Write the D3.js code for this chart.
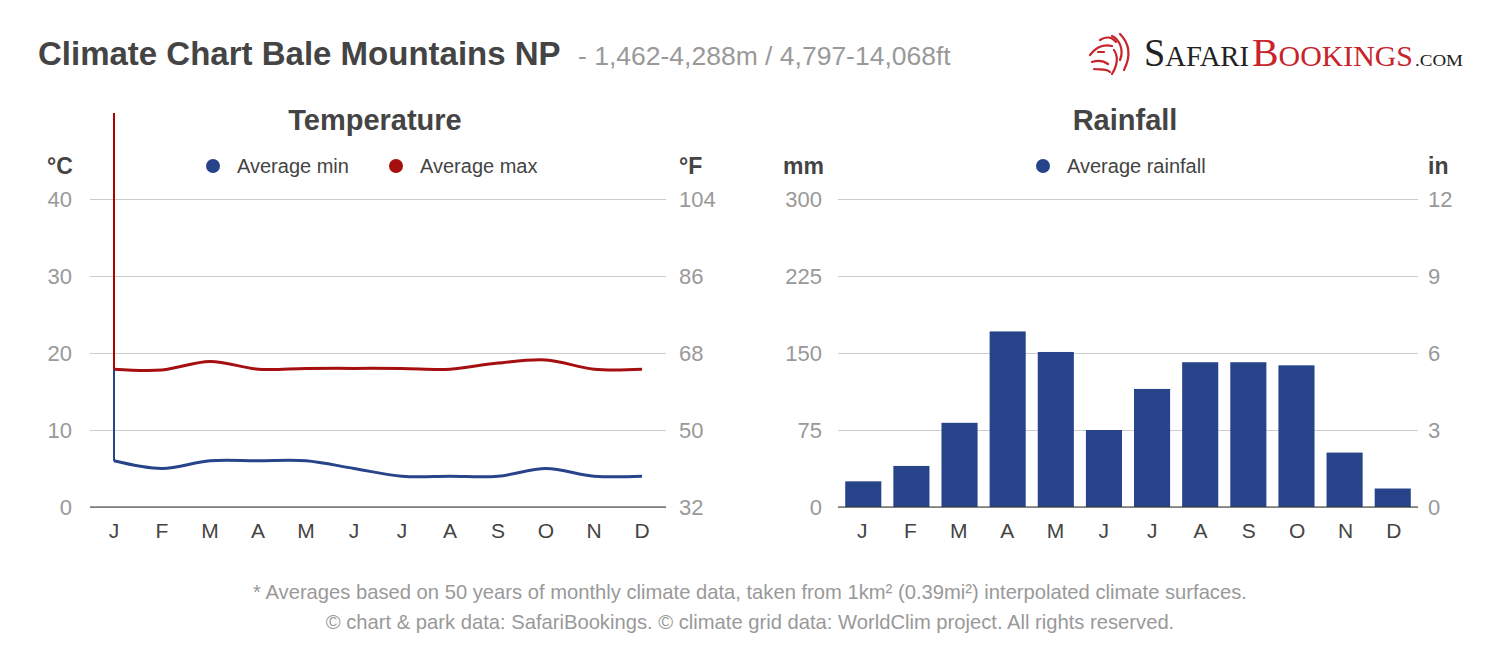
<!DOCTYPE html>
<html>
<head>
<meta charset="utf-8">
<script src="https://cdn.jsdelivr.net/npm/d3@7"></script>
<style>
  body { margin: 0; background: #fff; }
  svg { display: block; font-family: Arial, "Liberation Sans", sans-serif; }
</style>
</head>
<body>
<div id="chart"></div>
<script>
// data
var months = ['J', 'F', 'M', 'A', 'M', 'J', 'J', 'A', 'S', 'O', 'N', 'D'];
var tempMin = [6, 5, 6, 6, 6, 5, 4, 4, 4, 5, 4, 4];
var tempMax = [17.9, 17.8, 18.9, 17.9, 18, 18, 18, 17.9, 18.7, 19.1, 17.9, 17.9];
var rainfall = [25, 40, 82, 171, 151, 75, 115, 141, 141, 138, 53, 18];
var celsiusTicks = [0, 10, 20, 30, 40];
var fahrenheitTicks = [32, 50, 68, 86, 104];
var mmTicks = [0, 75, 150, 225, 300];
var inchTicks = [0, 3, 6, 9, 12];

var width = 1500,
    height = 652,
    blue = '#27448b',
    red = '#a50f0f',
    dark = '#444',
    grey = '#999',
    grid = '#ccc';

var svg = d3.select('#chart').append('svg')
    .attr('width', width)
    .attr('height', height);

// header
svg.append('text')
    .attr('x', 38).attr('y', 65)
    .style('font-size', '33px').style('font-weight', 'bold')
    .style('fill', dark)
    .text('Climate Chart Bale Mountains NP');
svg.append('text')
    .attr('x', 578).attr('y', 65)
    .style('font-size', '26.5px').style('fill', grey)
    .text('- 1,462-4,288m / 4,797-14,068ft');

// logo
var logo = svg.append('g');
logo.append('text').attr('x', 1144).attr('y', 66)
    .attr('textLength', 105).attr('lengthAdjust', 'spacingAndGlyphs')
    .style('font-family', '"Liberation Serif", serif').style('fill', '#222')
    .html('<tspan style="font-size:40px">S</tspan><tspan style="font-size:30px">AFARI</tspan>');
logo.append('text').attr('x', 1252).attr('y', 66)
    .attr('textLength', 161).attr('lengthAdjust', 'spacingAndGlyphs')
    .style('font-family', '"Liberation Serif", serif').style('fill', '#c8242b')
    .html('<tspan style="font-size:40px">B</tspan><tspan style="font-size:30px">OOKINGS</tspan>');
logo.append('text').attr('x', 1415).attr('y', 66)
    .attr('textLength', 48).attr('lengthAdjust', 'spacingAndGlyphs')
    .style('font-family', '"Liberation Serif", serif').style('font-size', '16px').style('fill', '#222')
    .text('.COM');
// lion head, loose strokes
var lion = [
  'M1090,55 C1096,47 1104,44 1112,46',
  'M1092,62 C1098,60 1104,61 1108,64',
  'M1094,69 C1100,70 1106,68 1110,72',
  'M1100,40 C1106,36 1112,37 1116,42',
  'M1112,36 C1120,40 1124,50 1120,60',
  'M1120,34 C1128,42 1132,54 1124,70',
  'M1114,50 C1118,56 1118,64 1112,74',
  'M1098,52 L1104,52'
];
logo.selectAll('path.lion').data(lion).enter().append('path')
    .attr('d', function(d) { return d; })
    .style('fill', 'none').style('stroke', '#c8242b')
    .style('stroke-width', 2.2).style('stroke-linecap', 'round');

// shared vertical layout
var plotTop = 199, plotBottom = 507;

function styleTicks(g, size, color) {
  g.select('.domain').remove();
  g.selectAll('.tick text').style('font-size', size).style('fill', color)
      .style('font-family', 'inherit');
}

// ---------- Temperature ----------
var tx = d3.scaleBand().domain(d3.range(12)).range([90, 666]);
var ty = d3.scaleLinear().domain([0, 40]).range([plotBottom, plotTop]);
var tyF = d3.scaleLinear().domain([32, 104]).range([plotBottom, plotTop]);

svg.append('text').attr('x', 375).attr('y', 130)
    .attr('text-anchor', 'middle')
    .style('font-size', '29px').style('font-weight', 'bold').style('fill', dark)
    .text('Temperature');
svg.append('text').attr('x', 47).attr('y', 174)
    .style('font-size', '23px').style('font-weight', 'bold').style('fill', dark)
    .text('°C');
svg.append('text').attr('x', 679).attr('y', 174)
    .style('font-size', '23px').style('font-weight', 'bold').style('fill', dark)
    .text('°F');

var legendT = [{ name: 'Average min', color: blue, x: 213 }, { name: 'Average max', color: red, x: 396 }];
legendT.forEach(function(l) {
  svg.append('circle').attr('cx', l.x).attr('cy', 166).attr('r', 7).style('fill', l.color);
  svg.append('text').attr('x', l.x + 24).attr('y', 173)
      .style('font-size', '20px').style('fill', dark).text(l.name);
});

svg.append('g').attr('transform', 'translate(90,0)')
    .call(d3.axisLeft(ty).tickValues(celsiusTicks).tickSize(-576).tickPadding(18))
    .call(function(g) {
      styleTicks(g, '22px', grey);
      g.selectAll('.tick line').style('stroke', grid);
    });
svg.append('g').attr('transform', 'translate(666,0)')
    .call(d3.axisRight(tyF).tickValues(fahrenheitTicks).tickSize(0).tickPadding(13))
    .call(function(g) { styleTicks(g, '22px', grey); });
svg.append('line').attr('x1', 90).attr('x2', 666).attr('y1', plotBottom).attr('y2', plotBottom)
    .style('stroke', '#333').style('stroke-width', 1);

svg.append('g').attr('transform', 'translate(0,' + plotBottom + ')')
    .call(d3.axisBottom(tx).tickFormat(function(i) { return months[i]; }).tickSize(0).tickPadding(16))
    .call(function(g) { styleTicks(g, '21px', dark); });

var cx = function(d, i) { return tx(i) + tx.bandwidth() / 2; };
// marker line at January
var mx = cx(0, 0);
svg.append('line')
    .attr('x1', mx).attr('x2', mx)
    .attr('y1', 113).attr('y2', ty(tempMax[0]))
    .attr('shape-rendering', 'crispEdges')
    .style('stroke', '#b00000').style('stroke-width', 1.3);
svg.append('line')
    .attr('x1', mx).attr('x2', mx)
    .attr('y1', ty(tempMax[0])).attr('y2', ty(tempMin[0]))
    .attr('shape-rendering', 'crispEdges')
    .style('stroke', blue).style('stroke-width', 1.3);

var lineT = d3.line()
    .x(cx)
    .y(function(d) { return ty(d); })
    .curve(d3.curveCatmullRom.alpha(0.5));
svg.append('path').datum(tempMin).attr('d', lineT)
    .style('fill', 'none').style('stroke', blue).style('stroke-width', 3);
svg.append('path').datum(tempMax).attr('d', lineT)
    .style('fill', 'none').style('stroke', red).style('stroke-width', 3);

// ---------- Rainfall ----------
var rx = d3.scaleBand().domain(d3.range(12)).range([838, 1418]).paddingInner(0.25).paddingOuter(0.15);
var rxLabel = d3.scaleBand().domain(d3.range(12)).range([838, 1418]);
var ry = d3.scaleLinear().domain([0, 300]).range([plotBottom, plotTop]);
var ryIn = d3.scaleLinear().domain([0, 12]).range([plotBottom, plotTop]);

svg.append('text').attr('x', 1125).attr('y', 130)
    .attr('text-anchor', 'middle')
    .style('font-size', '29px').style('font-weight', 'bold').style('fill', dark)
    .text('Rainfall');
svg.append('text').attr('x', 783).attr('y', 174)
    .style('font-size', '23px').style('font-weight', 'bold').style('fill', dark)
    .text('mm');
svg.append('text').attr('x', 1428).attr('y', 174)
    .style('font-size', '23px').style('font-weight', 'bold').style('fill', dark)
    .text('in');
svg.append('circle').attr('cx', 1043).attr('cy', 166).attr('r', 7).style('fill', blue);
svg.append('text').attr('x', 1067).attr('y', 173)
    .style('font-size', '20px').style('fill', dark).text('Average rainfall');

svg.append('g').attr('transform', 'translate(838,0)')
    .call(d3.axisLeft(ry).tickValues(mmTicks).tickSize(-580).tickPadding(16))
    .call(function(g) {
      styleTicks(g, '22px', grey);
      g.selectAll('.tick line').style('stroke', grid);
    });
svg.append('g').attr('transform', 'translate(1418,0)')
    .call(d3.axisRight(ryIn).tickValues(inchTicks).tickSize(0).tickPadding(10))
    .call(function(g) { styleTicks(g, '22px', grey); });

svg.selectAll('rect.rain').data(rainfall)
    .enter().append('rect')
    .attr('class', 'rain')
    .style('fill', blue)
    .attr('x', function(d, i) { return rx(i); })
    .attr('width', rx.bandwidth())
    .attr('y', function(d) { return ry(d); })
    .attr('height', function(d) { return plotBottom - ry(d); });

svg.append('line').attr('x1', 838).attr('x2', 1418).attr('y1', plotBottom).attr('y2', plotBottom)
    .style('stroke', '#333').style('stroke-width', 1);

svg.append('g').attr('transform', 'translate(0,' + plotBottom + ')')
    .call(d3.axisBottom(rxLabel).tickFormat(function(i) { return months[i]; }).tickSize(0).tickPadding(16))
    .call(function(g) { styleTicks(g, '21px', dark); });

// footer
svg.append('text').attr('x', 750).attr('y', 599).attr('text-anchor', 'middle')
    .style('font-size', '20.2px').style('fill', grey)
    .text('* Averages based on 50 years of monthly climate data, taken from 1km² (0.39mi²) interpolated climate surfaces.');
svg.append('text').attr('x', 750).attr('y', 629).attr('text-anchor', 'middle')
    .style('font-size', '20.2px').style('fill', grey)
    .text('© chart & park data: SafariBookings. © climate grid data: WorldClim project. All rights reserved.');
</script>
</body>
</html>
